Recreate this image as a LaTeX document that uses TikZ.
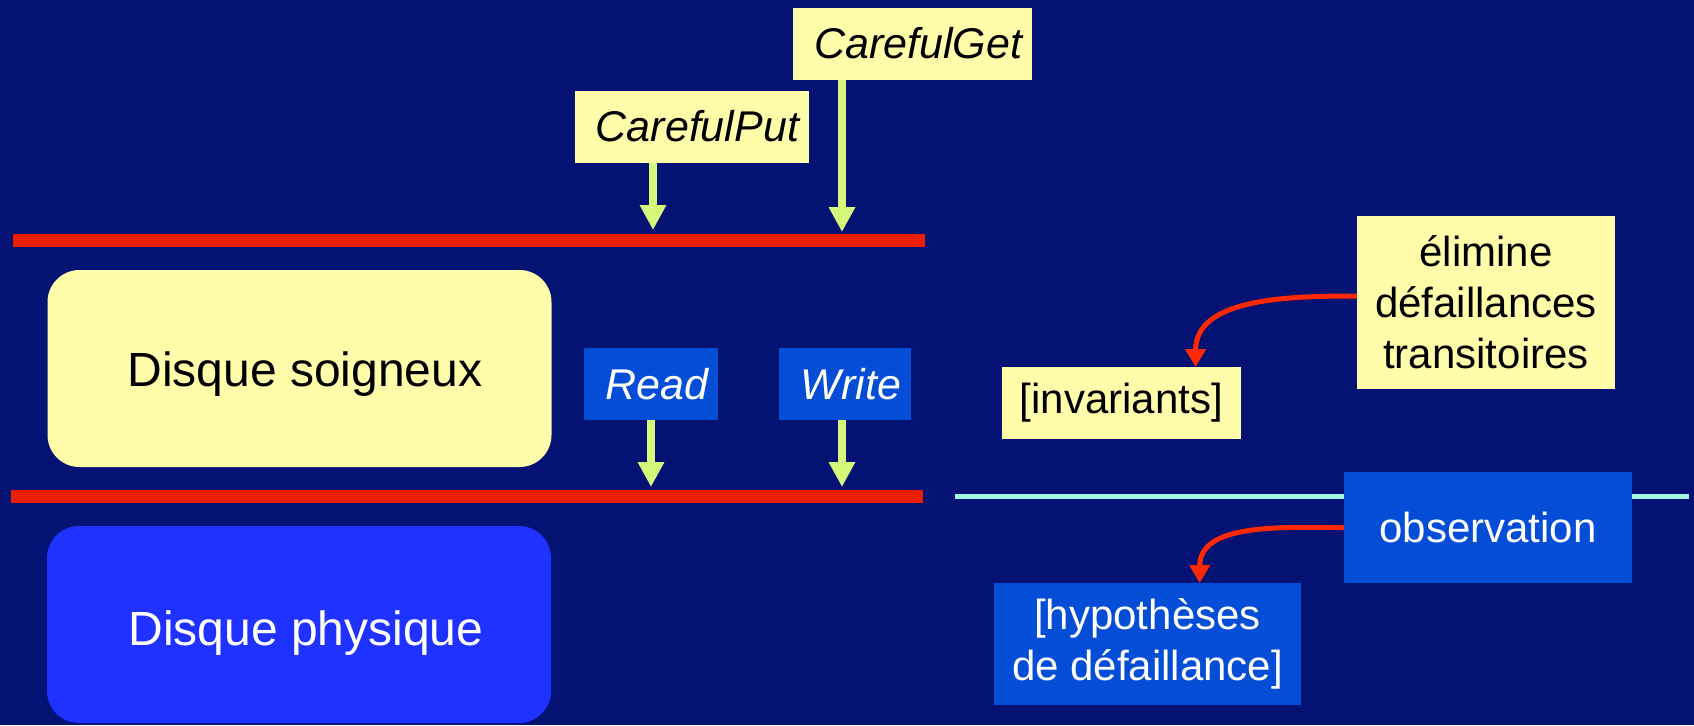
\documentclass[tikz,border=0pt]{standalone}
\usepackage{fontspec}
\setmainfont{Liberation Sans}
\usetikzlibrary{arrows.meta,calc}

\definecolor{bgnavy}{RGB}{3,18,115}
\definecolor{pale}{RGB}{255,252,170}
\definecolor{tagblue}{RGB}{4,78,215}
\definecolor{diskblue}{RGB}{32,50,255}
\definecolor{layerred}{RGB}{235,30,0}
\definecolor{arrowred}{RGB}{255,40,0}
\definecolor{obscyan}{RGB}{160,245,225}
\definecolor{callgreen}{RGB}{214,248,122}

\begin{document}
\begin{tikzpicture}[x=0.5pt,y=-0.5pt,
  every node/.style={inner sep=0pt, outer sep=0pt},
  palebox/.style={fill=pale, text=black},
  bluebox/.style={fill=tagblue, text=white},
  diskbox/.style={rounded corners=16pt, minimum width=252pt, minimum height=98.5pt,
                  text depth=0pt, font=\fontsize{24}{29}\selectfont},
  callbox/.style={inner xsep=5pt, align=right, minimum height=36pt,
                  font=\fontsize{21.5}{26}\selectfont\itshape},
  notebox/.style={align=center, font=\fontsize{21}{25.5}\selectfont},
  layerline/.style={draw=layerred, line width=6.5pt, line cap=butt},
  obsline/.style={draw=obscyan, line width=2.5pt},
  greenarrow/.style={draw=callgreen, line width=4pt,
                     -{Triangle[width=12.5pt,length=12.5pt]}},
  redarrow/.style={draw=arrowred, line width=2.5pt,
                   -{Triangle[width=10pt,length=9pt]}}
]
% background
\fill[bgnavy] (0,0) rectangle (1694,725);
\useasboundingbox (0,0) rectangle (1694,725);

% interface lines
\draw[layerline] (13,240) -- (925,240);
\draw[layerline] (11,496) -- (923,496);
\draw[obsline] (955,496) -- (1689,496);

% layers
\node[palebox, diskbox, text height=17.5pt] (soig) at (299.5,368.5)
  {\hspace*{5.5pt}Disque soigneux};
\node[diskbox, fill=diskblue, text=white, text height=20.5pt] (phys) at (299,624.5)
  {\hspace*{7pt}Disque physique};

% interface operations
\node[palebox, callbox, text width=109.5pt] (get) at (912.5,43.5) {CarefulGet};
\node[palebox, callbox, text width=107pt] (put) at (692,126.5) {CarefulPut};
\node[bluebox, callbox, text width=57pt] (read) at (651,384) {Read};
\node[bluebox, callbox, text width=56pt] (write) at (845,384) {Write};

% calls onto the interfaces
\coordinate (putTip) at (653,230);
\coordinate (getTip) at (842,232);
\coordinate (readTip) at (651,487);
\coordinate (writeTip) at (842,487);
\draw[greenarrow] (put.south -| putTip) -- (putTip);
\draw[greenarrow] (get.south -| getTip) -- (getTip);
\draw[greenarrow] (read.south -| readTip) -- (readTip);
\draw[greenarrow] (write.south -| writeTip) -- (writeTip);

% notes
\node[palebox, notebox, minimum width=129pt, minimum height=86.5pt] (elim) at (1486,302.5)
  {élimine\\défaillances\\transitoires};
\node[palebox, notebox, minimum width=119.5pt, minimum height=36pt] (inv) at (1121.5,403)
  {[invariants]};
\node[bluebox, notebox, minimum width=144pt, minimum height=55.5pt] (obs) at (1488,527.5)
  {observation};
\node[bluebox, notebox, minimum width=153.5pt, minimum height=61pt] (hyp) at (1147.5,644)
  {[hypothèses\\de défaillance]};

\draw[redarrow] ([yshift=3.25pt]elim.west) to[out=180,in=90]
  ($(inv.north west)!0.81!(inv.north east)$);
\draw[redarrow] (obs.west) to[out=180,in=90]
  ($(hyp.north west)!0.67!(hyp.north east)$);
\end{tikzpicture}
\end{document}
